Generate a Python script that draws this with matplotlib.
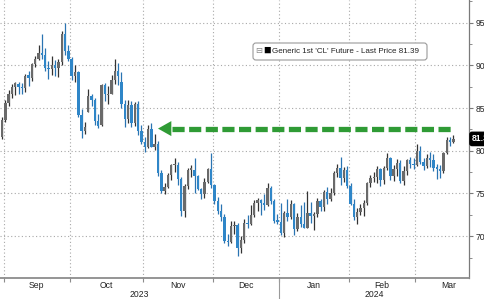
import numpy as np
import pandas as pd
import matplotlib
matplotlib.use('Agg')
import matplotlib.pyplot as plt
from matplotlib.patches import FancyBboxPatch

# ----------------------------------------------------------------------------
# DATA: daily OHLC of the front-month WTI future
# ----------------------------------------------------------------------------
first_day = '2023-08-31'
last_day = '2024-03-18'
holidays = ['2023-09-04', '2023-11-23', '2023-12-25', '2024-01-01',
            '2024-01-15', '2024-02-19', '2024-03-29']

open_ = [81.6,
         83.6, 85.6, 86.7, 87.5, 87.8, 87.4, 87.3, 88.9, 88.5, 90.2,
         90.8, 91.5, 91.2, 89.7, 89.6, 90.0, 89.7, 90.4, 93.7, 91.7,
         90.8, 88.8, 89.2, 84.2, 82.3, 84.6, 86.4, 86.0, 83.5, 83.0, 87.7,
         86.5, 86.7, 88.3, 89.4, 88.0, 85.5, 83.7, 85.4, 83.2, 85.5, 82.3,
         81.0, 80.5, 82.5, 80.5, 80.8, 77.4, 75.3, 75.7, 77.2, 78.3, 78.3,
         76.7, 72.9, 75.9, 77.8, 77.8, 77.1, 75.5, 74.9, 76.4, 77.9,
         76.0, 74.1, 73.0, 72.3, 69.4, 69.3, 71.2, 71.3, 68.6, 69.5,
         71.6, 71.4, 72.5, 73.9, 74.2, 73.9, 73.6, 75.6, 74.1, 71.8,
         71.7, 70.4, 72.7, 72.2, 73.8, 70.8, 72.2, 71.4, 71.0, 72.7, 72.4,
         72.6, 74.1, 73.4, 75.2, 74.4, 75.1, 77.4, 78.0, 76.8, 77.8,
         75.9, 73.8, 72.3, 72.8, 73.3, 73.9, 76.2, 76.8, 76.9, 77.9,
         76.6, 78.0, 79.2, 77.0, 77.9, 78.6, 76.5, 77.6, 78.9, 78.5,
         78.3, 80.0, 78.7, 78.2, 79.1, 78.9, 78.0, 77.9, 77.6, 79.7, 81.3,
         81.0]
high = [83.9,
        86.0, 87.1, 87.8, 88.0, 88.0, 87.9, 89.0, 89.3, 90.3, 91.1,
        92.4, 93.7, 92.0, 90.5, 91.1, 90.6, 90.8, 94.0, 95.0, 92.4,
        91.0, 90.0, 89.4, 84.9, 83.4, 87.2, 86.7, 86.2, 84.3, 87.8, 87.9,
        87.6, 88.9, 90.8, 90.3, 89.2, 86.0, 85.9, 85.8, 85.7, 85.8, 83.0,
        81.6, 83.0, 83.3, 82.0, 81.2, 77.7, 76.2, 77.4, 78.5, 79.1, 78.7,
        76.9, 76.1, 78.0, 78.3, 79.1, 77.2, 75.6, 76.8, 78.0, 79.7,
        76.1, 74.6, 73.8, 72.6, 70.2, 71.8, 71.8, 71.5, 70.0, 72.0,
        72.5, 73.6, 74.2, 74.5, 74.4, 74.9, 76.2, 75.9, 74.3, 72.6,
        73.9, 73.0, 74.4, 74.2, 73.9, 72.7, 73.6, 74.0, 75.3, 74.0, 72.8,
        74.5, 74.4, 75.4, 75.8, 75.6, 77.6, 78.5, 79.3, 78.1, 78.2,
        76.2, 74.4, 73.3, 73.8, 74.2, 76.3, 77.2, 77.5, 78.2, 78.0,
        78.2, 79.7, 79.3, 78.3, 79.0, 78.9, 78.2, 79.0, 79.3, 79.2,
        80.8, 80.6, 79.2, 79.6, 79.8, 79.6, 78.5, 78.3, 79.9, 81.6, 81.6,
        81.9]
low = [81.4,
       83.4, 85.2, 86.2, 86.5, 86.6, 86.6, 86.9, 87.6, 88.2, 89.8,
       90.6, 90.8, 89.3, 88.4, 88.9, 88.8, 88.6, 90.1, 91.2, 90.5,
       88.3, 88.1, 83.9, 81.5, 82.0, 84.5, 85.2, 83.0, 82.7, 82.9, 85.8,
       85.5, 86.6, 87.8, 87.7, 85.0, 82.8, 83.2, 82.8, 82.9, 81.9, 80.8,
       79.9, 80.3, 80.4, 80.1, 77.0, 75.1, 74.9, 75.6, 76.6, 77.5, 76.0,
       72.4, 72.2, 75.5, 76.9, 75.0, 75.4, 74.4, 74.5, 76.2, 75.6,
       73.8, 72.6, 71.8, 69.2, 68.8, 69.2, 70.3, 67.7, 68.0, 69.2,
       70.9, 71.3, 72.3, 73.0, 72.5, 73.1, 73.5, 73.8, 71.5, 71.4,
       70.1, 69.9, 71.8, 72.0, 70.1, 70.6, 71.1, 71.0, 71.0, 71.6, 70.7,
       72.3, 72.9, 72.9, 73.8, 74.1, 74.8, 76.9, 76.0, 76.3, 75.6,
       73.6, 71.9, 71.4, 72.5, 72.4, 73.7, 75.8, 76.3, 76.2, 75.9,
       76.1, 77.8, 76.6, 76.5, 77.1, 76.2, 76.0, 77.2, 78.0, 77.9,
       78.2, 78.5, 77.8, 78.0, 78.1, 77.6, 76.7, 76.8, 77.4, 79.6, 80.6,
       80.9]
close = [83.6,
         85.6, 86.7, 87.5, 87.9, 87.5, 87.3, 88.8, 88.5, 90.2, 90.8,
         91.5, 91.2, 89.7, 89.6, 90.0, 89.7, 90.4, 93.7, 91.7, 90.8,
         88.8, 89.2, 84.2, 82.3, 82.8, 86.4, 86.0, 83.5, 82.9, 87.7, 86.7,
         86.7, 88.3, 89.4, 88.8, 85.5, 83.7, 85.4, 83.2, 85.5, 82.3, 81.0,
         80.4, 82.5, 80.5, 80.8, 77.4, 75.3, 75.7, 77.2, 78.3, 78.3, 76.7,
         72.9, 75.9, 77.8, 77.8, 77.1, 75.5, 74.9, 76.4, 77.9, 76.0,
         74.1, 73.0, 72.3, 69.4, 69.3, 71.2, 71.3, 68.6, 69.5, 71.6,
         71.4, 72.5, 73.9, 74.2, 73.9, 73.6, 75.6, 74.1, 71.8, 71.7,
         70.4, 72.7, 72.2, 73.8, 70.8, 72.2, 71.4, 71.0, 72.7, 72.4, 72.6,
         74.1, 73.4, 75.2, 74.4, 75.1, 77.4, 78.0, 76.8, 77.8, 75.9,
         73.8, 72.3, 72.8, 73.3, 73.9, 76.2, 76.8, 76.9, 77.9, 76.6,
         78.0, 79.2, 77.0, 77.9, 78.6, 76.5, 77.6, 78.9, 78.5, 78.3,
         80.0, 78.7, 78.2, 79.1, 78.9, 78.0, 77.9, 77.6, 79.7, 81.3, 81.0,
         81.4]

last_price = 81.39
legend_label = "Generic 1st 'CL' Future - Last Price 81.39"
month_names = ['Sep', 'Oct', 'Nov', 'Dec', 'Jan', 'Feb', 'Mar']
month_starts = ['2023-09-01', '2023-10-01', '2023-11-01', '2023-12-01',
                '2024-01-01', '2024-02-01', '2024-03-01']
year_labels = ['2023', '2024']
y_ticks = [70, 75, 80, 85, 90, 95]

# breakdown level marked by the green arrow
arrow_level = 82.6
arrow_from = '2023-11-07'
arrow_to = last_day

# ----------------------------------------------------------------------------
# TRADING-DAY AXIS
# ----------------------------------------------------------------------------
dates = pd.bdate_range(first_day, last_day, freq='C', holidays=holidays)
x = np.arange(len(dates))
o = np.array(open_)
h = np.array(high)
l = np.array(low)
c = np.array(close)
assert len(o) == len(h) == len(l) == len(c) == len(dates)


def day_index(day):
    return int(np.searchsorted(dates, pd.Timestamp(day)))


# month boundaries and label centres (centred on the full month)
bounds = []
centres = []
for ms in month_starts:
    start = pd.Timestamp(ms)
    end = start + pd.offsets.MonthEnd(0)
    b = day_index(start) - 0.5
    n_days = len(pd.bdate_range(start, end, freq='C', holidays=holidays))
    bounds.append(b)
    centres.append(b + n_days / 2.0)
year_bound = day_index('2024-01-01') - 0.5

# ----------------------------------------------------------------------------
# PLOT
# ----------------------------------------------------------------------------
plt.rcParams['font.family'] = ['Liberation Sans', 'DejaVu Sans']
W, H = 485, 299
fig = plt.figure(figsize=(W / 100, H / 100), dpi=100)
ax = fig.add_axes([0, 21 / H, 469 / W, 278 / H])
ax.set_zorder(0)
xmin, xmax = -0.6, 140.7
ax.set_xlim(xmin, xmax)
ax.set_ylim(65.1, 97.66)

grid_kw = dict(color='#a8a8a8', lw=0.8, ls=(0, (1, 2.2)), zorder=0)
for yv in y_ticks:
    ax.axhline(yv, **grid_kw)
for b in bounds:
    ax.axvline(b, **grid_kw)

# candles
up = c >= o
col_body = np.where(up, '#6a6a6a', '#2f86c8')
col_wick = np.where(up, '#333333', '#2a74b2')
ax.vlines(x, l, h, colors=col_wick, lw=0.9, zorder=2)
body_lo = np.minimum(o, c)
body_h = np.maximum(np.abs(c - o), 0.15)
ax.bar(x, body_h, bottom=body_lo, width=0.72, color=col_body, lw=0, zorder=3)

# green dashed arrow
green = '#2f9b35'
tip = day_index(arrow_from)
tail = day_index(arrow_to)
ax.plot([tip + 4.2, tail], [arrow_level, arrow_level], color=green, lw=3.8,
        ls=(0, (2.3, 0.85)), dash_capstyle='butt', solid_capstyle='butt', zorder=4)
ax.annotate('', xy=(tip, arrow_level), xytext=(tip + 4.3, arrow_level),
            arrowprops=dict(arrowstyle='-|>,head_length=0.8,head_width=0.45',
                            color=green, lw=0, shrinkA=0, shrinkB=0,
                            mutation_scale=12), zorder=4)

# axes styling
for s in ['top', 'left']:
    ax.spines[s].set_visible(False)
ax.spines['right'].set_color('#7a7a7a')
ax.spines['right'].set_linewidth(0.9)
ax.spines['bottom'].set_color('#8c8c8c')
ax.spines['bottom'].set_linewidth(1.3)

ax.yaxis.tick_right()
ax.set_yticks(y_ticks)
ax.set_yticks(np.arange(67.5, 97.6, 5), minor=True)
ax.tick_params(axis='y', which='major', length=3, width=0.8, color='#7a7a7a',
               labelsize=6.2, labelcolor='#222222', pad=1.5)
ax.tick_params(axis='y', which='minor', length=2, width=0.6, color='#7a7a7a')

ax.set_xticks(bounds)
ax.set_xticklabels([])
ax.tick_params(axis='x', length=3, width=0.8, color='#8c8c8c')

for name, cx in zip(month_names, centres):
    ax.annotate(name, xy=(cx, 0), xycoords=('data', 'axes fraction'),
                xytext=(0, -5.2), textcoords='offset points', ha='center',
                va='center', fontsize=6.2, color='#222222')
year_pos = [(xmin + year_bound) / 2, (year_bound + xmax) / 2]
for name, cx in zip(year_labels, year_pos):
    ax.annotate(name, xy=(cx, 0), xycoords=('data', 'axes fraction'),
                xytext=(0, -11.8), textcoords='offset points', ha='center',
                va='center', fontsize=6.2, color='#222222')
ax.plot([year_bound, year_bound], [0, -0.08], transform=ax.get_xaxis_transform(),
        color='#9a9a9a', lw=0.8, clip_on=False)

# last price tag (clipped by the right edge, as in the original)
ax.annotate('%.2f' % last_price, xy=(1, last_price), xycoords=('axes fraction', 'data'),
            xytext=(2.2, 0), textcoords='offset points', ha='left', va='center',
            fontsize=6.2, color='white', fontweight='bold',
            bbox=dict(boxstyle='round,pad=0.25', fc='black', ec='black'))

# legend box
box = FancyBboxPatch((253 / W, 1 - 60 / H), 174 / W, 17 / H,
                     boxstyle='round,pad=0,rounding_size=0.006',
                     mutation_aspect=W / H, transform=fig.transFigure,
                     fc='white', ec='#9a9a9a', lw=0.8, zorder=1)
fig.patches.append(box)
yl = 1 - 51.5 / H
fig.text(259 / W, yl, '\u229f', fontsize=6, color='#888888', ha='center', va='center', zorder=6)
fig.text(267 / W, yl + 0.002, '\u25a0', fontsize=9, color='black', ha='center', va='center', zorder=6)
fig.text(272.5 / W, yl, legend_label, fontsize=5.75, color='#222222', ha='left', va='center', zorder=6)

fig.savefig('out.png', dpi=100)
